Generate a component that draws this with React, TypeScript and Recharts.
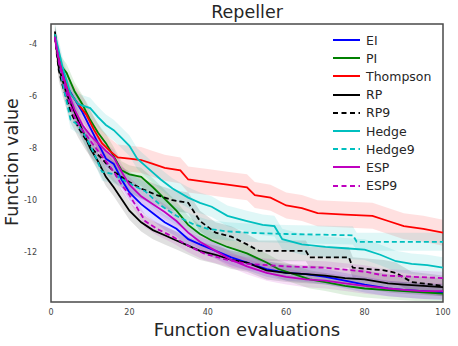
import React from "react";
import { Area, ComposedChart, Legend, Line, ReferenceArea, XAxis, YAxis } from "recharts";

type Point = [number, number];

// mean best value per evaluation
const eiPoints: Point[] = [
  [1, -3.7], [2, -4.5], [4, -5.6], [6, -6.1], [8, -6.6], [10, -7.2], [12, -7.8],
  [14, -8.4], [16, -8.6], [18, -9.2], [20, -9.7], [23, -10.15], [26, -10.5],
  [29, -10.85], [32, -11.1], [35, -11.5], [38, -11.7], [42, -11.95], [46, -12.2],
  [50, -12.4], [55, -12.65], [60, -12.8], [65, -12.85], [70, -12.95], [75, -13.1],
  [80, -13.25], [86, -13.4], [90, -13.45], [95, -13.5], [100, -13.55],
];
const piPoints: Point[] = [
  [1, -3.6], [2, -4.7], [4, -5.1], [6, -5.8], [8, -6.3], [10, -6.9], [12, -7.4],
  [14, -7.8], [16, -8.3], [18, -8.85], [20, -9.0], [23, -9.1], [26, -9.5],
  [29, -9.95], [32, -10.4], [35, -10.95], [38, -11.3], [41, -11.55], [45, -11.8],
  [50, -12.05], [55, -12.4], [58, -12.65], [62, -12.85], [66, -13.05], [70, -13.15],
  [75, -13.3], [80, -13.4], [85, -13.45], [90, -13.5], [95, -13.55], [100, -13.6],
];
const thompsonPoints: Point[] = [
  [1, -3.8], [3, -5.2], [5, -5.9], [7, -6.3], [9, -6.7], [11, -7.3], [13, -7.8],
  [15, -8.1], [17, -8.35], [20, -8.4], [23, -8.45], [26, -8.6], [29, -8.75],
  [33, -8.85], [35, -9.2], [40, -9.3], [45, -9.4], [50, -9.5], [52, -9.8],
  [56, -9.9], [60, -10.2], [64, -10.3], [68, -10.5], [75, -10.55], [82, -10.6],
  [86, -10.8], [90, -11.0], [95, -11.1], [100, -11.25],
];
const rpPoints: Point[] = [
  [1, -3.5], [2, -4.9], [4, -5.9], [6, -6.6], [8, -7.3], [10, -8.0], [12, -8.5],
  [14, -9.1], [16, -9.5], [18, -9.95], [20, -10.4], [23, -10.85], [26, -11.15],
  [29, -11.35], [32, -11.55], [35, -11.75], [38, -11.95], [42, -12.1], [46, -12.3],
  [50, -12.4], [55, -12.7], [60, -12.8], [65, -12.85], [70, -12.9], [75, -13.0],
  [80, -13.05], [86, -13.2], [90, -13.25], [95, -13.3], [100, -13.35],
];
const rp9Points: Point[] = [
  [1, -3.7], [2, -5.0], [3, -5.6], [5, -6.6], [7, -7.2], [9, -7.7], [11, -8.1],
  [13, -8.4], [16, -8.9], [20, -9.3], [23, -9.55], [27, -9.8], [31, -10.0],
  [35, -10.1], [38, -10.8], [42, -11.25], [46, -11.4], [50, -11.7], [53, -11.95],
  [65, -11.95], [66, -12.2], [76, -12.2], [77, -12.6], [85, -12.7], [88, -12.8],
  [92, -13.15], [100, -13.3],
];
const hedgePoints: Point[] = [
  [1, -3.6], [3, -4.9], [5, -5.9], [7, -6.3], [10, -6.45], [12, -6.8], [14, -7.1],
  [16, -7.3], [18, -7.6], [20, -7.9], [22, -8.4], [25, -8.8], [28, -9.2],
  [31, -9.55], [35, -9.9], [38, -10.1], [41, -10.25], [45, -10.6], [50, -10.8],
  [54, -10.95], [57, -11.0], [59, -11.5], [64, -11.7], [70, -11.8], [75, -11.85],
  [80, -11.9], [84, -12.1], [88, -12.35], [92, -12.45], [96, -12.5], [100, -12.6],
];
const hedge9Points: Point[] = [
  [1, -3.7], [3, -5.5], [5, -6.9], [7, -7.1], [9, -7.6], [11, -8.2], [13, -8.9],
  [16, -9.0], [20, -9.35], [24, -9.65], [28, -10.2], [32, -10.6], [36, -10.9],
  [40, -11.1], [45, -11.2], [50, -11.25], [60, -11.3], [77, -11.35], [78, -11.6],
  [100, -11.6],
];
const espPoints: Point[] = [
  [1, -3.75], [2, -4.6], [4, -5.7], [6, -6.5], [8, -7.1], [10, -7.5], [12, -7.8],
  [14, -8.1], [16, -8.35], [18, -8.9], [20, -9.4], [23, -9.85], [26, -10.15],
  [29, -10.45], [32, -10.8], [35, -11.25], [38, -11.6], [42, -11.95], [46, -12.3],
  [50, -12.55], [55, -12.8], [60, -12.95], [65, -13.05], [70, -13.1], [75, -13.2],
  [80, -13.3], [86, -13.4], [90, -13.45], [95, -13.5], [100, -13.5],
];
const esp9Points: Point[] = [
  [1, -3.7], [2, -4.7], [4, -5.9], [6, -6.8], [8, -7.3], [10, -7.7], [12, -8.1],
  [14, -8.5], [16, -8.9], [18, -9.4], [20, -9.8], [22, -10.3], [24, -10.8],
  [27, -11.1], [31, -11.4], [35, -11.75], [39, -12.05], [45, -12.3], [50, -12.45],
  [60, -12.55], [70, -12.6], [80, -12.75], [85, -12.9], [100, -13.0],
];

const xTicks = [0, 20, 40, 60, 80, 100];
const yTicks = [-12, -10, -8, -6, -4];
const xDomain: [number, number] = [0, 100];
const yDomain: [number, number] = [-13.92, -3.21];

type Series = {
  name: string;
  color: string;
  dashed: boolean;
  spread: number;
  points: Point[];
};

const series: Series[] = [
  { name: "EI", color: "#0000ff", dashed: false, spread: 0.3, points: eiPoints },
  { name: "PI", color: "#008000", dashed: false, spread: 0.35, points: piPoints },
  { name: "Thompson", color: "#ff0000", dashed: false, spread: 0.5, points: thompsonPoints },
  { name: "RP", color: "#000000", dashed: false, spread: 0.35, points: rpPoints },
  { name: "RP9", color: "#000000", dashed: true, spread: 0.4, points: rp9Points },
  { name: "Hedge", color: "#00bfbf", dashed: false, spread: 0.4, points: hedgePoints },
  { name: "Hedge9", color: "#00bfbf", dashed: true, spread: 0.35, points: hedge9Points },
  { name: "ESP", color: "#bf00bf", dashed: false, spread: 0.3, points: espPoints },
  { name: "ESP9", color: "#bf00bf", dashed: true, spread: 0.25, points: esp9Points },
];

const FONT = "'DejaVu Sans', sans-serif";
const TEXT = "#262626";
const FRAME = "#4a4a4a";

function toRows(s: Series) {
  return s.points.map(([x, y]) => ({ x, y, band: [y - s.spread, y + s.spread] }));
}

function LegendBox() {
  return (
    <div style={{ fontFamily: FONT, fontSize: 12.5, color: TEXT }}>
      {series.map((s) => (
        <div key={s.name} style={{ display: "flex", alignItems: "center", height: 18.2 }}>
          <svg width={36} height={10} style={{ display: "block" }}>
            <line
              x1={3}
              x2={30}
              y1={5}
              y2={5}
              stroke={s.color}
              strokeWidth={2}
              strokeDasharray={s.dashed ? "5 3.5" : undefined}
            />
          </svg>
          <span style={{ whiteSpace: "nowrap" }}>{s.name}</span>
        </div>
      ))}
    </div>
  );
}

export default function App() {
  const rows = series.map(toRows);

  return (
    <div style={{ position: "absolute", left: 0, top: 0, width: 458, height: 346, background: "#fff" }}>
      <div
        style={{
          position: "absolute",
          left: 51,
          width: 392,
          top: 3.5,
          textAlign: "center",
          fontFamily: FONT,
          fontSize: 17.5,
          lineHeight: 1,
          color: TEXT,
        }}
      >
        Repeller
      </div>
      <div
        style={{
          position: "absolute",
          left: 51,
          width: 392,
          top: 321,
          textAlign: "center",
          fontFamily: FONT,
          fontSize: 18,
          lineHeight: 1,
          color: TEXT,
        }}
      >
        Function evaluations
      </div>
      <div
        style={{
          position: "absolute",
          left: 12.5,
          top: 162,
          transform: "translate(-50%, -50%) rotate(-90deg)",
          fontFamily: FONT,
          fontSize: 17.5,
          lineHeight: 1,
          color: TEXT,
          whiteSpace: "nowrap",
        }}
      >
        Function value
      </div>
      <ComposedChart width={458} height={346} margin={{ top: 24, right: 15, left: 0, bottom: 0 }}>
        <XAxis
          type="number"
          dataKey="x"
          domain={xDomain}
          ticks={xTicks}
          height={44}
          tickLine={false}
          tickSize={0}
          tickMargin={7}
          axisLine={false}
          tick={{ fontFamily: FONT, fontSize: 8, fill: "#444" }}
          allowDataOverflow
        />
        <YAxis
          type="number"
          domain={yDomain}
          ticks={yTicks}
          width={51}
          tickLine={false}
          tickSize={0}
          tickMargin={14}
          axisLine={false}
          tick={{ fontFamily: FONT, fontSize: 8, fill: "#444" }}
          allowDataOverflow
        />
        {series.map((s, i) => (
          <Area
            key={`band-${s.name}`}
            data={rows[i]}
            dataKey="band"
            type="linear"
            stroke="none"
            fill={s.color}
            fillOpacity={0.12}
            isAnimationActive={false}
            legendType="none"
          />
        ))}
        {series.map((s, i) => (
          <Line
            key={s.name}
            data={rows[i]}
            dataKey="y"
            name={s.name}
            type="linear"
            stroke={s.color}
            strokeWidth={1.8}
            strokeDasharray={s.dashed ? "5 3" : undefined}
            dot={false}
            activeDot={false}
            isAnimationActive={false}
          />
        ))}
        <ReferenceArea
          x1={xDomain[0]}
          x2={xDomain[1]}
          y1={yDomain[0]}
          y2={yDomain[1]}
          fill="none"
          fillOpacity={0}
          stroke={FRAME}
          strokeWidth={1.5}
          ifOverflow="visible"
        />
        <Legend
          layout="vertical"
          align="center"
          verticalAlign="middle"
          content={() => <LegendBox />}
          wrapperStyle={{ top: 31, left: 330, width: 115, height: 166 }}
        />
      </ComposedChart>
    </div>
  );
}
